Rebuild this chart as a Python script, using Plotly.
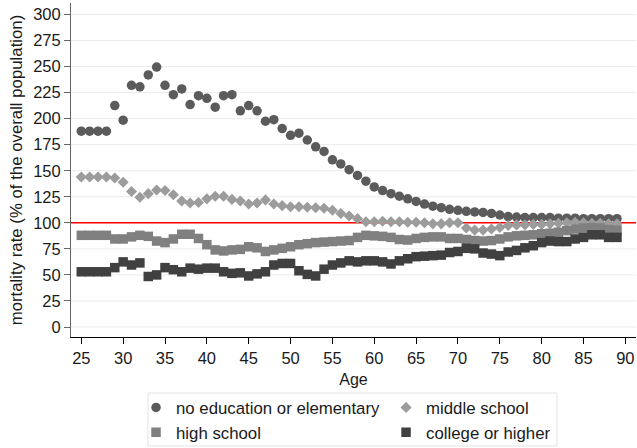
import plotly.graph_objects as go

ages = list(range(25, 90))

no_education = [188, 188, 188, 188, 212.5, 198.5, 232, 230.5, 242, 249.5,
                232, 223, 228.5, 213.5, 222, 219.5, 211, 222, 223, 207.5,
                212.5, 207.5, 197.5, 199, 190.5, 184, 186, 179.5, 173, 168.5,
                160.5, 156.5, 151, 145.5, 140, 134.5, 131, 128, 125.5, 123,
                120.5, 118, 116, 114.5, 113, 112, 111, 110.5, 110, 109,
                107.5, 106, 105.5, 105, 105, 105, 105, 104.5, 104.5, 104.5,
                104, 104, 104, 104, 104]
middle_school = [144, 144, 144, 144, 143, 139, 130, 124.5, 128, 131.5,
                 131, 127, 121, 119, 119.5, 123, 125.5, 125.5, 122.5, 121,
                 118, 119, 122, 118, 116.5, 115.5, 115.5, 115, 114.5, 114,
                 112, 109, 106.5, 104, 101, 101, 101.5, 101, 101, 100.5,
                 100.5, 100, 99, 99, 100, 100, 95, 93, 93, 94,
                 95.5, 97.5, 98, 98, 98.5, 98.5, 99, 99.5, 100, 100.5,
                 100, 99.5, 99.5, 99, 99]
high_school = [88, 88, 88, 88, 84.5, 84.5, 86.5, 88, 87, 82.5,
               81, 84.5, 89, 89, 85, 79, 74, 73, 74, 74.5,
               77, 76, 72.5, 74, 75.5, 77, 79, 80, 81, 81.5,
               82, 82.5, 83, 86, 88, 87.5, 87, 86, 84, 83.5,
               85, 86, 86.5, 86.5, 85, 85, 84, 83, 82.5, 83,
               84.5, 86.5, 87.5, 88, 88.5, 89.5, 90, 91, 92.5, 94,
               95, 95.5, 95, 93.5, 93]
college = [53, 53, 53, 53, 57, 62.5, 59.5, 61.5, 48.5, 50,
           57, 55, 53, 56.5, 55.5, 56.5, 56.5, 53, 51.5, 52,
           49, 51, 53, 59.5, 61, 61, 54, 50.5, 49, 55.5,
           59.5, 61.5, 63.5, 62.5, 63.5, 63.5, 62.5, 60.5, 63.5, 65.5,
           67.5, 68, 68.5, 69, 71.5, 72.5, 75.5, 75, 71, 70,
           68.5, 72, 73.5, 76, 78, 81, 82.5, 82, 82, 84.5,
           86, 88.5, 88.5, 86, 86]

y_ticks = list(range(0, 325, 25))
x_ticks = list(range(25, 95, 5))

series = [
    ('no education or elementary', no_education, 'circle', 9.5, '#5b5b5b', 'legend'),
    ('middle school', middle_school, 'diamond', 8.5, '#9c9c9c', 'legend2'),
    ('high school', high_school, 'square', 9.5, '#808080', 'legend'),
    ('college or higher', college, 'square', 9.5, '#404040', 'legend2'),
]

fig = go.Figure()

for name, vals, symbol, size, color, leg in series:
    fig.add_trace(go.Scatter(
        x=ages, y=vals, mode='markers', name=name, legend=leg,
        marker=dict(symbol=symbol, size=size, color=color, line=dict(width=0))
    ))

# grid lines drawn as shapes so the red reference line can sit above them but below the markers
for t in y_ticks:
    fig.add_hline(y=t, line_color='#ebebeb', line_width=1, layer='below')
fig.add_hline(y=100, line_color='#ff0000', line_width=1.5, layer='below')

# legend frame
fig.add_shape(type='rect', xref='paper', yref='paper',
              x0=0.1363, x1=0.8602, y0=-0.3263, y1=-0.1677,
              line=dict(color='#e3e3e3', width=1), fillcolor='rgba(0,0,0,0)', layer='above')

font = dict(family='Liberation Sans, Arial', size=16, color='#1a1a1a')
leg_font = dict(family='Liberation Sans, Arial', size=16.8, color='#1a1a1a')
tick_font = dict(family='Liberation Sans, Arial', size=16.5, color='#1a1a1a')

fig.update_layout(
    width=637, height=448,
    margin=dict(l=71, r=1, t=3, b=111, autoexpand=False),
    paper_bgcolor='white', plot_bgcolor='rgba(0,0,0,0)',
    font=font,
    showlegend=True,
    legend=dict(x=0.1151, y=-0.1586, xanchor='left', yanchor='top',
                bgcolor='rgba(0,0,0,0)', borderwidth=0, font=leg_font),
    legend2=dict(x=0.5576, y=-0.1586, xanchor='left', yanchor='top',
                 bgcolor='rgba(0,0,0,0)', borderwidth=0, font=leg_font),
)
fig.update_xaxes(
    range=[23.77, 91.27], tickvals=x_ticks, tickfont=tick_font,
    showgrid=False, zeroline=False, automargin=False,
    showline=True, linecolor='#000000', linewidth=1,
    ticks='outside', ticklen=6, tickcolor='#000000',
    title=dict(text='Age', font=font, standoff=8),
)
fig.update_yaxes(
    range=[-9.6, 311], tickvals=y_ticks, tickfont=tick_font,
    showgrid=False, zeroline=False, automargin=False,
    showline=True, linecolor='#666666', linewidth=1,
    ticks='outside', ticklen=6, tickcolor='#666666',
    title=dict(text='mortality rate (% of the overall population)', font=leg_font, standoff=6),
)

# the page body has a default 8px margin; drop it so the figure fills the window
fig.write_html('out.html', config={'displayModeBar': False},
               post_script="document.body.style.margin='0px';")
